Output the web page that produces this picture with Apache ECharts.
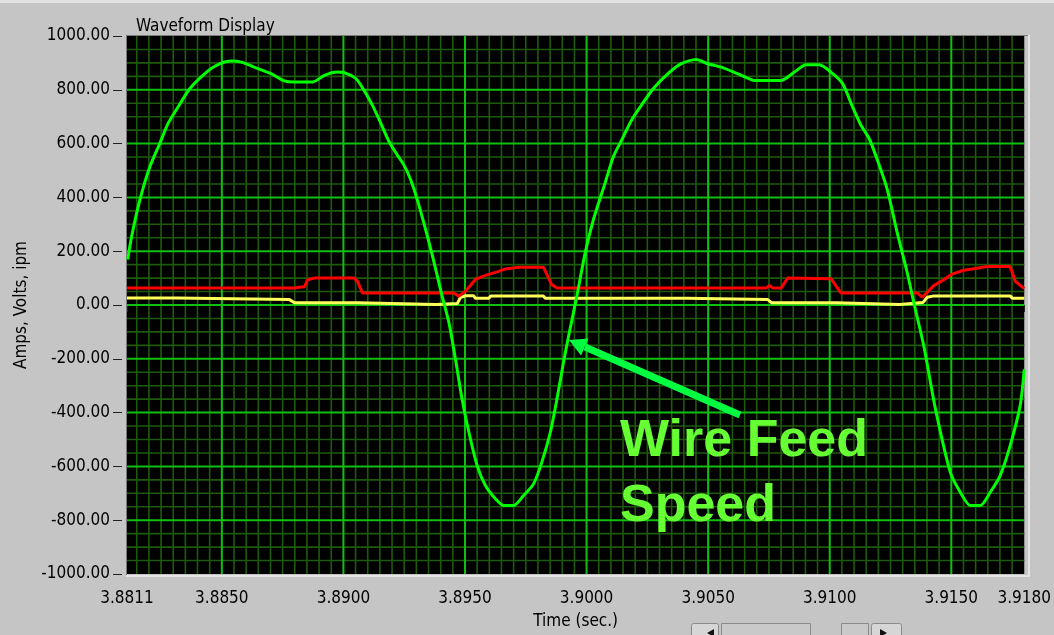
<!DOCTYPE html>
<html><head><meta charset="utf-8">
<script src="https://cdn.jsdelivr.net/npm/echarts@6/dist/echarts.min.js"></script>
<style>html,body{margin:0;padding:0;background:#c5c5c5;overflow:hidden}#c{width:1054px;height:635px}</style>
</head><body><div id="c"></div>
<script>
// ---- data ----
const xTickLabels = [3.8811, 3.8850, 3.8900, 3.8950, 3.9000, 3.9050, 3.9100, 3.9150, 3.9180];
const yTickLabels = [-1000, -800, -600, -400, -200, 0, 200, 400, 600, 800, 1000];
const xMin = 3.8811, xMax = 3.9180;

const greenWave = [[3.88113,169],[3.88129,255],[3.88163,391],[3.88204,514],[3.88245,601],[3.88279,675],[3.88320,736],[3.88368,804],[3.88430,860],[3.88478,891],[3.88539,907],[3.88580,903],[3.88648,879],[3.88703,860],[3.88751,835],[3.88785,829],[3.88874,829],[3.88922,854],[3.88976,866],[3.89003,864],[3.89051,842],[3.89085,798],[3.89119,743],[3.89154,675],[3.89188,607],[3.89222,557],[3.89249,520],[3.89277,465],[3.89304,391],[3.89331,304],[3.89365,187],[3.89406,33],[3.89434,-66],[3.89461,-202],[3.89488,-350],[3.89516,-473],[3.89550,-597],[3.89584,-671],[3.89625,-720],[3.89659,-745],[3.89700,-745],[3.89741,-708],[3.89782,-665],[3.89816,-584],[3.89851,-473],[3.89878,-350],[3.89905,-214],[3.89926,-116],[3.89960,33],[3.89994,193],[3.90028,317],[3.90076,453],[3.90110,551],[3.90144,613],[3.90185,687],[3.90226,743],[3.90274,804],[3.90335,860],[3.90390,897],[3.90451,913],[3.90499,897],[3.90554,884],[3.90636,854],[3.90691,835],[3.90800,835],[3.90855,866],[3.90902,893],[3.90957,893],[3.91005,866],[3.91053,823],[3.91094,736],[3.91128,669],[3.91162,619],[3.91196,539],[3.91237,428],[3.91278,267],[3.91319,119],[3.91346,8],[3.91387,-153],[3.91435,-387],[3.91496,-622],[3.91537,-696],[3.91578,-745],[3.91619,-745],[3.91660,-696],[3.91701,-634],[3.91742,-523],[3.91783,-375],[3.91800,-239]];

const redWave = [[3.88110,63],[3.88799,63],[3.88819,66],[3.88840,68],[3.88853,94],[3.88880,100],[3.89044,100],[3.89058,88],[3.89078,45],[3.89454,45],[3.89475,33],[3.89502,51],[3.89543,95],[3.89584,110],[3.89639,125],[3.89666,134],[3.89721,140],[3.89823,140],[3.89857,75],[3.89878,63],[3.90738,63],[3.90752,73],[3.90766,63],[3.90800,63],[3.90827,100],[3.91005,98],[3.91046,45],[3.91360,45],[3.91381,29],[3.91428,72],[3.91469,94],[3.91503,115],[3.91551,129],[3.91585,134],[3.91647,143],[3.91742,143],[3.91763,88],[3.91800,61]];

const yellowWave = [[3.88110,26],[3.88315,26],[3.88320,20],[3.88778,20],[3.88799,8],[3.89058,8],[3.89065,2],[3.89381,2],[3.89386,6],[3.89469,6],[3.89481,28],[3.89502,34],[3.89536,34],[3.89543,25],[3.89598,25],[3.89606,33],[3.89823,33],[3.89830,25],[3.90413,25],[3.90419,20],[3.90745,20],[3.90762,8],[3.91025,8],[3.91033,2],[3.91288,2],[3.91294,9],[3.91383,9],[3.91401,29],[3.91424,33],[3.91743,33],[3.91751,25],[3.91800,25]];

// ---- grid line positions (axis structure) ----
const majorX = [], minorX = [], majorY = [], minorY = [];
for (let k = 7763; k <= 7835; k++) {
  const v = Number((k * 0.0005).toFixed(4));
  if (k % 10 === 0) majorX.push(v); else minorX.push(v);
}
for (let v = -950; v <= 950; v += 50) {
  if (v % 200 === 0) majorY.push(v); else minorY.push(v);
}

const FONT = "'DejaVu Sans Condensed', 'DejaVu Sans', sans-serif";
const MAJOR = '#10c010', MINOR = '#1e5a0b';

const chart = echarts.init(document.getElementById('c'), null, {renderer: 'canvas'});

function gridSeries(values, vertical, color, width, z) {
  return {
    type: 'custom', silent: true, z: z, clip: true, animation: false,
    xAxisIndex: 0, yAxisIndex: 0,
    data: values.map(v => vertical ? [v, 0] : [xMin, v]),
    renderItem: function (params, api) {
      let x1, y1, x2, y2;
      if (vertical) {
        const v = api.value(0);
        const a = api.coord([v, 1000]), b = api.coord([v, -1000]);
        x1 = a[0]; x2 = a[0]; y1 = a[1]; y2 = b[1];
      } else {
        const v = api.value(1);
        const a = api.coord([xMin, v]), b = api.coord([xMax, v]);
        y1 = a[1]; y2 = a[1]; x1 = a[0]; x2 = b[0];
      }
      return {type: 'line', shape: {x1: x1, y1: y1, x2: x2, y2: y2},
        style: {stroke: color, lineWidth: width}, silent: true};
    }
  };
}

const option = {
  animation: false,
  backgroundColor: '#c5c5c5',
  title: {
    text: 'Waveform Display', left: 131, top: 13,
    textStyle: {fontSize: 17, fontWeight: 'normal', color: '#000', fontFamily: FONT}
  },
  grid: {left: 127, top: 36, width: 901, height: 539, show: true, backgroundColor: '#000', borderWidth: 0},
  xAxis: {
    type: 'value', min: xMin, max: xMax, position: 'bottom', offset: 5,
    name: 'Time (sec.)', nameLocation: 'middle', nameGap: 34,
    nameTextStyle: {fontSize: 17, color: '#000', fontFamily: FONT},
    axisLine: {show: false},
    axisTick: {show: true, length: 7, customValues: xTickLabels, lineStyle: {color: '#222', width: 1}},
    axisLabel: {show: true, customValues: xTickLabels, margin: 11, fontSize: 17, color: '#000', fontFamily: FONT,
      formatter: v => v.toFixed(4)},
    splitLine: {show: false}
  },
  yAxis: {
    type: 'value', min: -1000, max: 1000, interval: 200, position: 'left', offset: 5,
    name: 'Amps, Volts, ipm', nameLocation: 'middle', nameGap: 85,
    nameTextStyle: {fontSize: 17, color: '#000', fontFamily: FONT},
    axisLine: {show: false},
    axisTick: {show: true, length: 9, lineStyle: {color: '#222', width: 1}},
    axisLabel: {show: true, margin: 12, fontSize: 17, color: '#000', fontFamily: FONT,
      formatter: v => v.toFixed(2)},
    splitLine: {show: false}
  },
  series: [
    gridSeries(minorX, true, MINOR, 1.6, 1),
    gridSeries(minorY, false, MINOR, 1.6, 1),
    gridSeries(majorX, true, MAJOR, 2, 2),
    gridSeries(majorY, false, MAJOR, 2, 2),
    {type: 'line', name: 'yellow', data: yellowWave, showSymbol: false, clip: true,
      lineStyle: {color: '#ffff5a', width: 3}, z: 3},
    {type: 'line', name: 'red', data: redWave, showSymbol: false, clip: true,
      lineStyle: {color: '#ff0000', width: 3}, z: 4},
    {type: 'line', name: 'green', data: greenWave, showSymbol: false, clip: true, smooth: 0.25,
      lineStyle: {color: '#00ff00', width: 3}, z: 5}
  ],
  graphic: [
    {type: 'rect', shape: {x: 0, y: 0, width: 1054, height: 3}, style: {fill: '#e2e2e2'}, silent: true},
    {type: 'line', shape: {x1: 126, y1: 35.5, x2: 1029, y2: 35.5}, style: {stroke: '#7a7a7a', lineWidth: 1}, silent: true},
    {type: 'line', shape: {x1: 126.5, y1: 35, x2: 126.5, y2: 576}, style: {stroke: '#7a7a7a', lineWidth: 1}, silent: true},
    {type: 'line', shape: {x1: 1029, y1: 35, x2: 1029, y2: 577}, style: {stroke: '#e4e4e4', lineWidth: 2}, silent: true},
    {type: 'line', shape: {x1: 126, y1: 576, x2: 1030, y2: 576}, style: {stroke: '#e4e4e4', lineWidth: 2}, silent: true},
    {type: 'line', shape: {x1: 740, y1: 415, x2: 585, y2: 347}, style: {stroke: '#00ff40', lineWidth: 7}, z: 100},
    {type: 'polygon', shape: {points: [[569, 340], [588.5, 338.5], [581, 355.5]]}, style: {fill: '#00ff40'}, z: 100},
    {type: 'text', x: 620, y: 442, z: 100, style: {text: 'Wire Feed', fill: '#66ff33',
      font: "bold 52px 'Liberation Sans', Arial, sans-serif", verticalAlign: 'middle', align: 'left'}},
    {type: 'text', x: 620, y: 507, z: 100, style: {text: 'Speed', fill: '#66ff33',
      font: "bold 52px 'Liberation Sans', Arial, sans-serif", verticalAlign: 'middle', align: 'left'}},
    {type: 'rect', shape: {x: 691.5, y: 623.5, width: 27, height: 14, r: 2}, style: {fill: '#d6d6d6', stroke: '#8a8a8a', lineWidth: 1}},
    {type: 'polygon', shape: {points: [[707, 633], [714, 629], [714, 637]]}, style: {fill: '#111'}},
    {type: 'rect', shape: {x: 721.5, y: 623.5, width: 89, height: 14}, style: {fill: '#c9c9c9', stroke: '#8a8a8a', lineWidth: 1}},
    {type: 'rect', shape: {x: 841.5, y: 623.5, width: 27, height: 14}, style: {fill: '#c9c9c9', stroke: '#8a8a8a', lineWidth: 1}},
    {type: 'rect', shape: {x: 871.5, y: 623.5, width: 30, height: 14, r: 2}, style: {fill: '#d6d6d6', stroke: '#8a8a8a', lineWidth: 1}},
    {type: 'polygon', shape: {points: [[887, 633], [880, 629], [880, 637]]}, style: {fill: '#111'}}
  ]
};
chart.setOption(option);
</script>
</body></html>
